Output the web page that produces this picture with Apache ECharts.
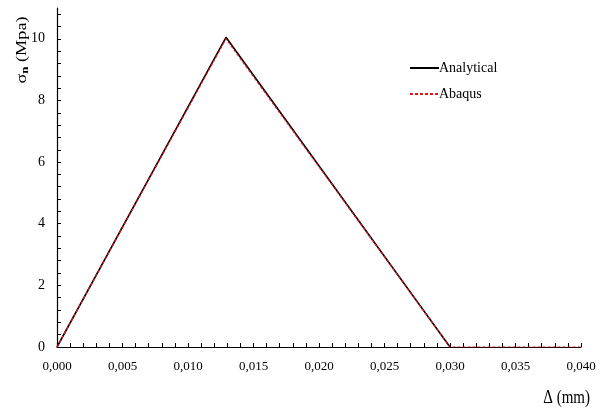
<!DOCTYPE html>
<html>
<head>
<meta charset="utf-8">
<script src="https://cdn.jsdelivr.net/npm/echarts@6/dist/echarts.min.js"></script>
<style>
  html, body { margin: 0; padding: 0; background: #fff; }
  #chart { width: 605px; height: 408px; }
</style>
</head>
<body>
<div id="chart"></div>
<script>
// Traction–separation law: analytical bilinear curve vs. Abaqus result
const analyticalDelta = [0, 0.0129, 0.030];
const analyticalSigma = [0, 10.05, 0];

const abaqusDelta = [0, 0.0129, 0.030, 0.040];
const abaqusSigma = [0, 10.0, 0, 0];

const xTickLabels = [0, 0.005, 0.010, 0.015, 0.020, 0.025, 0.030, 0.035, 0.040];
const yTickLabels = [0, 2, 4, 6, 8, 10];

// tick marks every 0.001 mm and every 0.4 MPa
const xTickMarks = [];
for (let i = 0; i <= 40; i++) xTickMarks.push(+(i * 0.001).toFixed(3));
const yTickMarks = [];
for (let i = 0; i <= 27; i++) yTickMarks.push(+(i * 0.4).toFixed(1));

const pairs = (xs, ys) => xs.map((x, i) => [x, ys[i]]);

const FONT = '"Liberation Serif", "DejaVu Serif", serif';

const chart = echarts.init(document.getElementById('chart'), null, { renderer: 'canvas' });

chart.setOption({
  animation: false,
  backgroundColor: '#ffffff',
  grid: { left: 57, right: 24, top: 8, bottom: 61, containLabel: false },
  legend: {
    orient: 'vertical',
    left: 404,
    top: 56,
    itemWidth: 29,
    itemHeight: 10,
    itemGap: 12,
    itemStyle: { opacity: 0 },
    textStyle: { fontFamily: FONT, fontSize: 14, color: '#000', padding: [0, 0, 0, -5] },
    data: ['Analytical', 'Abaqus']
  },
  xAxis: {
    type: 'value',
    min: 0,
    max: 0.04,
    interval: 0.005,
    axisLine: { lineStyle: { color: '#000', width: 1.2 } },
    axisTick: { inside: true, length: 4, customValues: xTickMarks, lineStyle: { color: '#000' } },
    axisLabel: {
      customValues: xTickLabels,
      margin: 13,
      fontFamily: FONT, fontSize: 13, color: '#000',
      formatter: v => v.toFixed(3).replace('.', ',')
    },
    splitLine: { show: false }
  },
  yAxis: {
    type: 'value',
    min: 0,
    max: 11,
    interval: 2,
    axisLine: { show: true, lineStyle: { color: '#000', width: 1.2 } },
    axisTick: { show: true, inside: true, length: 4, customValues: yTickMarks, lineStyle: { color: '#000' } },
    axisLabel: {
      customValues: yTickLabels,
      margin: 12,
      fontFamily: FONT, fontSize: 14, color: '#000'
    },
    splitLine: { show: false }
  },
  series: [
    {
      name: 'Analytical',
      type: 'line',
      data: pairs(analyticalDelta, analyticalSigma),
      symbol: 'none',
      lineStyle: { color: '#000', width: 1.6 },
      itemStyle: { color: '#000' },
      z: 2
    },
    {
      name: 'Abaqus',
      type: 'line',
      data: pairs(abaqusDelta, abaqusSigma),
      symbol: 'none',
      lineStyle: { color: '#e8141c', width: 1.2, type: [3, 2] },
      itemStyle: { color: '#e8141c' },
      z: 3
    }
  ],
  graphic: [
    {
      type: 'text',
      x: 22,
      y: 50,
      rotation: Math.PI / 2,
      scaleX: 1.3,
      style: {
        text: '{s|σ}{sub|n}{s| (Mpa)}',
        align: 'center',
        verticalAlign: 'middle',
        rich: {
          s: { fontFamily: FONT, fontSize: 14, fill: '#000' },
          sub: { fontFamily: FONT, fontSize: 10, fill: '#000', fontWeight: 'bold', padding: [6, 0, 0, 0] }
        }
      }
    },
    {
      type: 'text',
      x: 590,
      y: 398,
      scaleY: 1.25,
      style: { text: 'Δ (mm)', fontFamily: FONT, fontSize: 15, fill: '#000', align: 'right', verticalAlign: 'middle' }
    }
  ]
});
</script>
</body>
</html>
